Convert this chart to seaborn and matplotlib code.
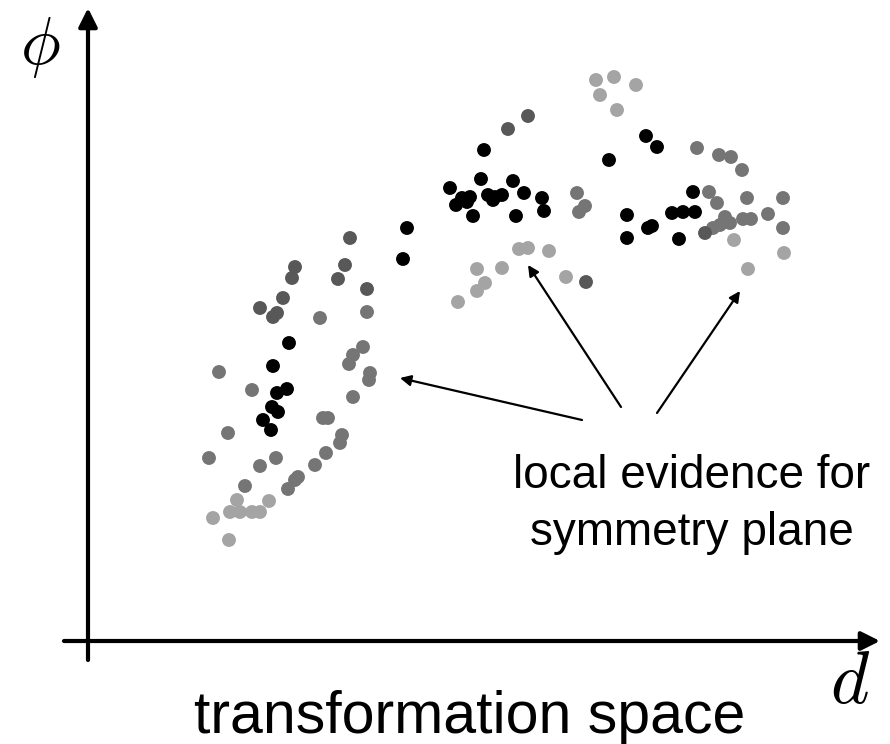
"""Transformation-space sketch: local evidence clusters in (d, phi)."""

import matplotlib

matplotlib.use("Agg")
import matplotlib.pyplot as plt
import pandas as pd
import seaborn as sns

# point positions (canvas units, y grows downward)
black_x = [289, 273, 287, 277, 272, 278, 263, 271,
           407, 403, 484, 450, 481, 513, 524, 542, 544, 516, 473, 456, 462, 470, 467, 488, 495, 493, 502,
           646, 657, 609, 693, 627, 627, 648, 652, 679, 672, 683, 695]
black_y = [343, 366, 389, 393, 407, 412, 420, 430,
           228, 259, 150, 188, 179, 181, 193, 198, 211, 216, 216, 205, 198, 197, 202, 195, 197, 200, 195,
           136, 147, 160, 192, 215, 238, 228, 226, 239, 213, 212, 212]

dark_x = [350, 295, 292, 345, 338, 367, 283, 260, 273, 277, 528, 508, 586, 705]
dark_y = [238, 267, 278, 265, 279, 289, 298, 308, 317, 313, 116, 129, 282, 233]

mid_x = [320, 367, 219, 252, 228, 209, 363, 353, 349, 370, 369, 353, 323, 328, 342, 340, 326, 315,
         298, 295, 288, 276, 260, 245,
         577, 585, 579, 697, 719, 731, 742, 709, 717, 747, 783, 768, 783, 725, 730, 720, 713, 743, 751]
mid_y = [318, 312, 372, 390, 433, 458, 347, 355, 364, 373, 380, 397, 418, 418, 435, 443, 453, 465,
         477, 480, 489, 458, 466, 486,
         193, 206, 212, 148, 155, 157, 170, 192, 203, 198, 198, 214, 228, 217, 223, 225, 228, 219, 219]

light_x = [237, 269, 230, 240, 252, 260, 213, 229,
           519, 528, 549, 502, 477, 485, 477, 458, 566,
           596, 614, 636, 600, 617, 734, 748, 784]
light_y = [500, 501, 512, 512, 512, 512, 518, 540,
           249, 248, 251, 268, 269, 283, 291, 302, 277,
           80, 77, 85, 95, 110, 240, 269, 253]

shade_names = ["black", "dark", "mid", "light"]
shade_colors = ["#000000", "#585858", "#757575", "#a4a4a4"]

frames = []
for name, xs, ys in zip(shade_names,
                        [black_x, dark_x, mid_x, light_x],
                        [black_y, dark_y, mid_y, light_y]):
    frames.append(pd.DataFrame({"d": xs, "phi": ys, "shade": name}))
df = pd.concat(frames[::-1], ignore_index=True)

sns.set_style("white")
plt.rcParams["font.family"] = ["Liberation Sans", "DejaVu Sans"]
plt.rcParams["mathtext.fontset"] = "cm"
plt.rcParams["text.color"] = "black"

fig = plt.figure(figsize=(8.9, 7.44), dpi=100)
ax = fig.add_axes([0, 0, 1, 1])
ax.set_xlim(0, 890)
ax.set_ylim(744, 0)
ax.axis("off")

sns.scatterplot(data=df, x="d", y="phi", hue="shade", hue_order=shade_names,
                palette=shade_colors, s=100, linewidth=0, legend=False, ax=ax, zorder=3)

# axes drawn as arrows
axis_style = dict(arrowstyle="-|>", lw=3, color="black", mutation_scale=28,
                  shrinkA=0, shrinkB=0)
ax.annotate("", xy=(88, 8), xytext=(88, 660), arrowprops=axis_style)
ax.annotate("", xy=(880, 641), xytext=(64, 641), arrowprops=axis_style)

# pointers to local evidence
ptr_style = dict(arrowstyle="-|>", lw=1.6, color="black", mutation_scale=16,
                 shrinkA=0, shrinkB=0)
ax.annotate("", xy=(400, 378), xytext=(582, 420), arrowprops=ptr_style)
ax.annotate("", xy=(528, 265), xytext=(621, 407), arrowprops=ptr_style)
ax.annotate("", xy=(740, 291), xytext=(657, 413), arrowprops=ptr_style)

ax.text(692, 545, "local evidence for\nsymmetry plane", ha="center", va="baseline",
        fontsize=33, linespacing=1.38, color="black")
ax.text(470, 733, "transformation space", ha="center", va="baseline", fontsize=42.5,
        color="black")
ax.text(40, 48, r"$\phi$", ha="center", va="center", fontsize=48, color="black")
ax.text(850, 683, r"$d$", ha="center", va="center", fontsize=53, color="black")

fig.savefig("out.png", dpi=100)
plt.close(fig)
